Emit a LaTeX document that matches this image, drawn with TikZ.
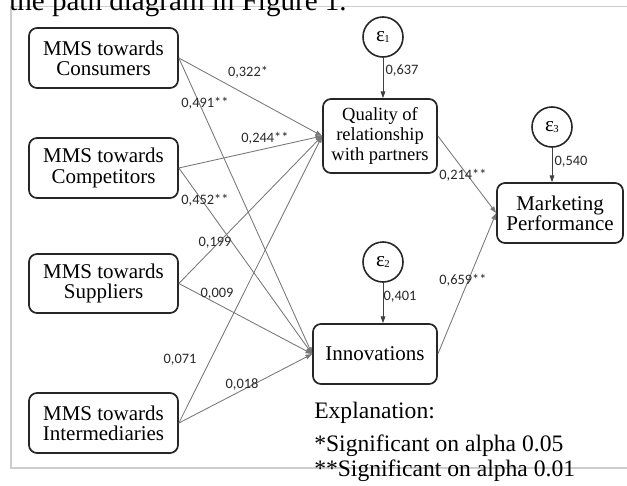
\documentclass[tikz,border=0pt]{standalone}
\usepackage{fontspec}
\setmainfont{Liberation Serif}
\newfontfamily\labelfont{Carlito}
\usetikzlibrary{arrows.meta}
\definecolor{framegray}{RGB}{205,205,205}
\definecolor{pathgray}{RGB}{120,120,120}
\definecolor{coefgray}{RGB}{40,40,40}
\def\px{0.75pt}
\tikzset{
  varbox/.style={draw=black!85, line width=1.3pt, rounded corners=6pt, align=center,
    font=\fontsize{15.75}{15.2}\selectfont, inner sep=0pt},
  errcirc/.style={draw=black!85, line width=1.2pt, circle, minimum size=40*\px, inner sep=0pt,
    font=\fontsize{16}{16}\selectfont},
  path/.style={draw=pathgray, line width=0.65pt, -{Stealth[length=5pt,width=3.5pt,inset=0pt]}},
  errpath/.style={draw=black!75, line width=0.65pt, -{Stealth[length=5pt,width=3.5pt,inset=0pt]}},
  coef/.style={font=\labelfont\fontsize{10.8}{10.8}\selectfont, text=coefgray, inner sep=0pt},
  note/.style={font=\fontsize{17.7}{17.7}\selectfont, anchor=base west, inner sep=0pt}
}
\newcommand\errlabel[1]{ε\kern-0.5pt\raisebox{-0.15ex}{\fontsize{8}{8}\selectfont #1}}
\begin{document}
\begin{tikzpicture}[x=0.75pt,y=-0.75pt]
\useasboundingbox (0,0) rectangle (627,485);
\clip (0,0) rectangle (627,485);
% page frame and the line of running text above it
\draw[framegray, line width=0.8pt] (627,6.5) -- (11,6.5) -- (11,468) -- (627,468);
\node[anchor=base west, inner sep=0pt, font=\fontsize{21.8}{21.8}\selectfont] (caption) at (9,11) {the path diagram in Figure 1.};

% exogenous constructs
\node[varbox, minimum width=149*\px, minimum height=60*\px] (cons) at (103.5,58) {MMS towards\\Consumers};
\node[varbox, minimum width=149*\px, minimum height=60*\px] (comp) at (103.5,168) {MMS towards\\Competitors};
\node[varbox, minimum width=149*\px, minimum height=59*\px] (supp) at (103.5,283.5) {MMS towards\\Suppliers};
\node[varbox, minimum width=149*\px, minimum height=60*\px] (inter) at (103.5,423) {MMS towards\\Intermediaries};

% endogenous constructs
\node[varbox, minimum width=114*\px, minimum height=74*\px, font=\fontsize{13.9}{15.3}\selectfont] (qual) at (380,136) {Quality of\\relationship\\with partners};
\node[varbox, minimum width=124*\px, minimum height=60*\px] (innov) at (375,354) {Innovations};
\node[varbox, minimum width=126*\px, minimum height=60*\px] (perf) at (560,213) {Marketing\\Performance};

% error terms
\node[errcirc] (e1) at (383,37) {\errlabel{1}};
\node[errcirc] (e2) at (383,262) {\errlabel{2}};
\node[errcirc] (e3) at (552,127) {\errlabel{3}};

% structural paths
\draw[path] (cons.east) -- (qual.west);
\draw[path] (cons.east) -- (innov.west);
\draw[path] (comp.east) -- (qual.west);
\draw[path] (comp.east) -- (innov.west);
\draw[path] (supp.east) -- (qual.west);
\draw[path] (supp.east) -- (innov.west);
\draw[path] (inter.east) -- (qual.west);
\draw[path] (inter.east) -- (innov.west);
\draw[path] (qual.east) -- (perf.west);
\draw[path] (innov.east) -- (perf.west);

% error paths
\draw[errpath] (e1.south) -- (e1.south |- qual.north);
\draw[errpath] (e2.south) -- (e2.south |- innov.north);
\draw[errpath] (e3.south) -- (e3.south |- perf.north);

% path coefficients
\node[coef] (c1) at (248,72) {0,322*};
\node[coef] (c2) at (205,103) {0,491**};
\node[coef] (c3) at (265,138) {0,244**};
\node[coef] (c4) at (205,200) {0,452**};
\node[coef] (c5) at (215,243) {0,199};
\node[coef] (c6) at (217,294) {0,009};
\node[coef] (c7) at (180,360) {0,071};
\node[coef] (c8) at (242,384) {0,018};
\node[coef] (c9) at (463,175) {0,214**};
\node[coef] (c10) at (463,280) {0,659**};
\node[coef] (c11) at (402,71) {0,637};
\node[coef] (c12) at (571,162) {0,540};
\node[coef] (c13) at (400,297) {0,401};

% significance legend
\node[note] (n1) at (314,418) {Explanation:};
\node[note] (n2) at (314,451) {*Significant on alpha 0.05};
\node[note] (n3) at (314,476) {**Significant on alpha 0.01};
\end{tikzpicture}
\end{document}
